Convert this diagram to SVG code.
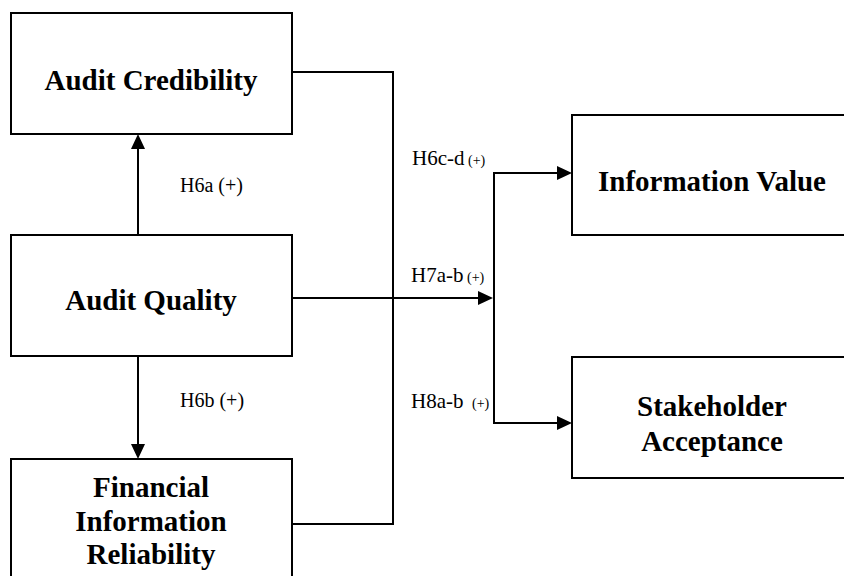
<svg xmlns="http://www.w3.org/2000/svg" width="844" height="576" viewBox="0 0 844 576">
  <style>
    .box { fill: #ffffff; stroke: #000000; stroke-width: 2; }
    .title { font-family: "Liberation Serif", "Times New Roman", serif; font-weight: bold; font-size: 29px; fill: #000000; text-anchor: middle; }
    .lbl { font-family: "Liberation Serif", "Times New Roman", serif; font-size: 20px; fill: #000000; }
    .lbl2 { font-family: "Liberation Serif", "Times New Roman", serif; font-size: 21px; fill: #000000; }
    .sm { font-size: 14px; }
    .wire { fill: none; stroke: #000000; stroke-width: 2; }
  </style>
  <defs>
    <marker id="arrow" markerUnits="userSpaceOnUse" markerWidth="16" markerHeight="15" refX="12" refY="7" orient="auto">
      <path d="M0,0 L15,7 L0,14 z" fill="#000000"/>
    </marker>
  </defs>
  <rect width="844" height="576" fill="#ffffff"/>

  <g id="node-audit-credibility">
    <rect class="box" x="11" y="13" width="281" height="121"/>
    <text class="title" x="151" y="90">Audit Credibility</text>
  </g>

  <g id="node-audit-quality">
    <rect class="box" x="11" y="235" width="281" height="121"/>
    <text class="title" x="151" y="310">Audit Quality</text>
  </g>

  <g id="node-financial-information-reliability">
    <rect class="box" x="11" y="459" width="281" height="140"/>
    <text class="title" x="151" y="497">Financial</text>
    <text class="title" x="151" y="531">Information</text>
    <text class="title" x="151" y="564">Reliability</text>
  </g>

  <g id="node-information-value">
    <rect class="box" x="572" y="115" width="290" height="120"/>
    <text class="title" x="712" y="191">Information Value</text>
  </g>

  <g id="node-stakeholder-acceptance">
    <rect class="box" x="572" y="357" width="290" height="121"/>
    <text class="title" x="712" y="416">Stakeholder</text>
    <text class="title" x="712" y="451">Acceptance</text>
  </g>

  <g id="connectors">
    <!-- Audit Quality to Audit Credibility -->
    <line class="wire" x1="138" y1="235" x2="138" y2="137" marker-end="url(#arrow)"/>
    <!-- Audit Quality to Financial Information Reliability -->
    <line class="wire" x1="138" y1="356" x2="138" y2="456" marker-end="url(#arrow)"/>
    <!-- bracket joining Audit Credibility and Financial Information Reliability -->
    <polyline class="wire" points="292,72 393,72 393,524 292,524"/>
    <!-- Audit Quality to the outcome bus -->
    <line class="wire" x1="292" y1="298" x2="490" y2="298" marker-end="url(#arrow)"/>
    <!-- outcome bus -->
    <line class="wire" x1="494" y1="172" x2="494" y2="424"/>
    <line class="wire" x1="493" y1="173" x2="569" y2="173" marker-end="url(#arrow)"/>
    <line class="wire" x1="493" y1="423" x2="569" y2="423" marker-end="url(#arrow)"/>
  </g>

  <g id="labels">
    <text class="lbl" x="180" y="192">H6a (+)</text>
    <text class="lbl" x="180" y="407">H6b (+)</text>
    <text class="lbl2" x="412" y="165">H6c-d<tspan class="sm"> (+)</tspan></text>
    <text class="lbl2" x="411" y="282">H7a-b<tspan class="sm"> (+)</tspan></text>
    <text class="lbl2" x="411" y="408">H8a-b<tspan class="sm" dx="5"> (+)</tspan></text>
  </g>
</svg>
